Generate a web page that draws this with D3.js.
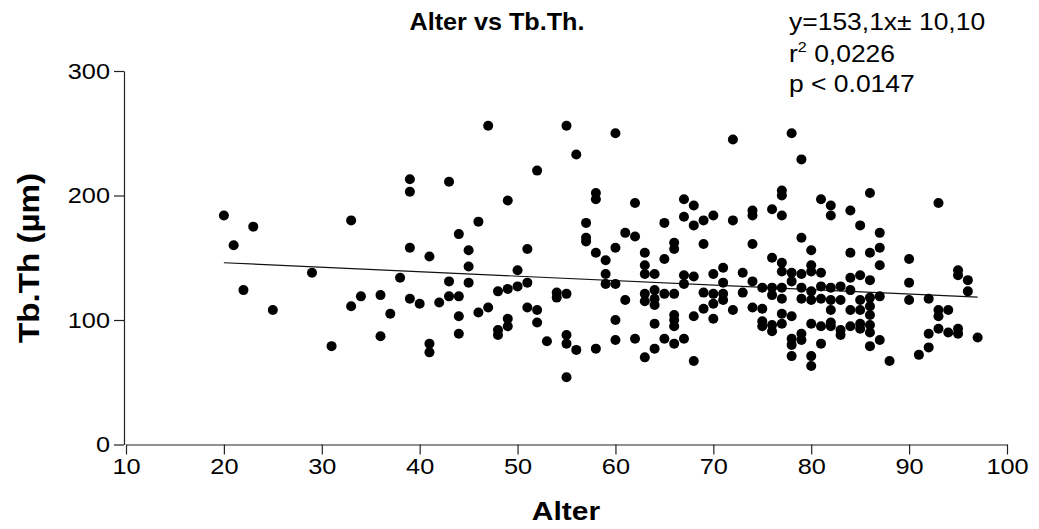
<!DOCTYPE html>
<html>
<head>
<meta charset="utf-8">
<script src="https://cdn.jsdelivr.net/npm/d3@7"></script>
<style>
  body { margin: 0; background: #fff; }
  svg { display: block; font-family: "Liberation Sans", Arial, sans-serif; }
</style>
</head>
<body>
<svg id="chart" width="1039" height="529"></svg>
<script>
// ages and Tb.Th values, one age column at a time
const ages = [
  20, 21, 22, 23, 25, 29, 31, 33, 33, 34, 36, 36, 37, 38,
  39, 39, 39, 39, 40, 41, 41, 41, 42, 43, 43, 43,
  44, 44, 44, 44, 45, 45, 45, 46, 46, 47, 47,
  48, 48, 48, 49, 49, 49, 49, 50, 50, 51, 51, 51,
  52, 52, 52, 53, 54, 54, 55, 55, 55, 55, 55, 56, 56,
  57, 57, 57, 58, 58, 58, 58, 59, 59, 59,
  60, 60, 60, 60, 60, 61, 61, 62, 62, 62,
  63, 63, 63, 63, 63, 63, 64, 64, 64, 64, 64, 64,
  65, 65, 65, 65, 66, 66, 66, 66, 66, 66, 66,
  67, 67, 67, 67, 67, 68, 68, 68, 68, 68,
  69, 69, 69, 69, 70, 70, 70, 70, 70, 71, 71, 71, 71,
  72, 72, 72, 73, 73, 74, 74, 74, 74, 74, 75, 75, 75, 75,
  76, 76, 76, 76, 76, 76, 77, 77, 77, 77, 77, 77, 77, 77, 77,
  78, 78, 78, 78, 78, 78, 78, 79, 79, 79, 79, 79, 79, 79,
  80, 80, 80, 80, 80, 80, 80, 80, 81, 81, 81, 81, 81, 81,
  82, 82, 82, 82, 82, 82, 82, 83, 83, 83, 83,
  84, 84, 84, 84, 84, 84, 85, 85, 85, 85, 85, 85,
  86, 86, 86, 86, 86, 86, 86, 86, 86, 87, 87, 87, 87, 87,
  88, 90, 90, 90, 91, 92, 92, 92, 93, 93, 93, 93,
  94, 94, 95, 95, 95, 95, 96, 96, 97
];
const tbth = [
  184, 160, 124, 175, 108, 138, 79, 180, 111, 119, 120, 87, 105, 134,
  213, 203, 158, 117, 113, 151, 81, 74, 114, 211, 131, 119,
  169, 119, 103, 89, 156, 143, 130, 179, 106, 256, 110,
  123, 92, 88, 196, 125, 101, 95, 140, 127, 157, 130, 110,
  220, 108, 98, 83, 122, 118, 256, 121, 88, 81, 54, 233, 76,
  178, 166, 163, 202, 197, 154, 77, 148, 137, 129,
  250, 158, 129, 100, 84, 170, 116, 194, 167, 85,
  154, 144, 137, 121, 115, 70, 137, 124, 117, 112, 97, 77,
  178, 149, 121, 85, 162, 157, 121, 104, 100, 95, 81,
  197, 183, 136, 129, 85, 192, 176, 135, 103, 67,
  180, 161, 122, 109, 184, 137, 121, 113, 101, 142, 130, 121, 116,
  245, 180, 108, 138, 122, 188, 184, 161, 131, 110, 126, 109, 99, 95,
  189, 150, 126, 120, 96, 91, 204, 200, 184, 146, 139, 126, 117, 105, 97,
  250, 138, 131, 103, 85, 80, 71, 229, 166, 137, 126, 117, 89, 84,
  156, 144, 139, 123, 116, 97, 71, 63, 197, 138, 127, 117, 95, 81,
  192, 184, 126, 116, 108, 98, 95, 127, 116, 92, 88,
  188, 154, 134, 124, 108, 95, 176, 136, 116, 108, 97, 93,
  202, 154, 132, 118, 111, 104, 96, 90, 79, 170, 158, 144, 119, 84,
  67, 149, 130, 116, 72, 117, 89, 78, 194, 108, 103, 93,
  108, 90, 140, 136, 93, 89, 132, 123, 86
];

// fitted line as drawn in the picture (end points)
const fitAges = [20, 97];
const fitValues = [146.0, 118.3];

const xTicks = [10, 20, 30, 40, 50, 60, 70, 80, 90, 100];
const yTicks = [0, 100, 200, 300];

const statLines = ["y=153,1x\u00b1 10,10", "0,0226", "p < 0.0147"];

const svg = d3.select("#chart");

const x = d3.scaleLinear().domain([10, 100]).range([126, 1007]);
const y = d3.scaleLinear().domain([0, 300]).range([444.5, 71]);

// the picture is a bit wider than tall, so text is stretched sideways
function stretch(sel, sx) {
  sel.each(function () {
    const len = this.getComputedTextLength();
    d3.select(this).attr("textLength", len * sx).attr("lengthAdjust", "spacingAndGlyphs");
  });
}

const xAxis = svg.append("g")
  .attr("transform", `translate(0,${y(0)})`)
  .call(d3.axisBottom(x).tickValues(xTicks).tickSize(10).tickSizeOuter(0).tickPadding(4));

const yAxis = svg.append("g")
  .attr("transform", `translate(${x(10) - 2},0)`)
  .call(d3.axisLeft(y).tickValues(yTicks).tickSize(10).tickSizeOuter(0).tickPadding(4));

[xAxis, yAxis].forEach(g => {
  g.select(".domain").attr("stroke", "#222").attr("stroke-width", 1.2);
  g.selectAll(".tick line").attr("stroke", "#222").attr("stroke-width", 1.2);
  g.selectAll(".tick text")
    .attr("fill", "#000")
    .style("font-family", "'Liberation Sans', Arial, sans-serif")
    .style("font-size", "22px");
});
stretch(xAxis.selectAll(".tick text"), 1.15);
stretch(yAxis.selectAll(".tick text"), 1.15);

// fit line
svg.append("path")
  .datum(d3.zip(fitAges, fitValues))
  .attr("fill", "none")
  .attr("stroke", "#111")
  .attr("stroke-width", 1.2)
  .attr("d", d3.line().x(d => x(d[0])).y(d => y(d[1])));

// points
svg.append("g")
  .selectAll("circle")
  .data(d3.zip(ages, tbth))
  .join("circle")
  .attr("cx", d => x(d[0]))
  .attr("cy", d => y(d[1]))
  .attr("r", 5)
  .attr("fill", "#000");

// title
const title = svg.append("text")
  .attr("x", 497).attr("y", 30)
  .attr("text-anchor", "middle")
  .style("font-weight", "bold")
  .style("font-size", "24px")
  .text("Alter vs Tb.Th.");
stretch(title, 1.05);

// axis titles
const xTitle = svg.append("text")
  .attr("x", 566).attr("y", 520)
  .attr("text-anchor", "middle")
  .style("font-weight", "bold")
  .style("font-size", "25px")
  .text("Alter");
stretch(xTitle, 1.2);

const yTitle = svg.append("text")
  .attr("transform", "translate(39,258) rotate(-90)")
  .attr("text-anchor", "middle")
  .style("font-weight", "bold")
  .style("font-size", "29px")
  .text("Tb.Th (\u00b5m)");
yTitle.attr("textLength", 170).attr("lengthAdjust", "spacingAndGlyphs");

// regression stats
const s1 = svg.append("text")
  .attr("x", 789).attr("y", 30)
  .style("font-size", "23px")
  .text(statLines[0]);
stretch(s1, 1.15);

const s2 = svg.append("text")
  .attr("x", 789).attr("y", 62)
  .style("font-size", "23px");
s2.append("tspan").text("r");
s2.append("tspan").attr("dy", -10).style("font-size", "14px").text("2");
s2.append("tspan").attr("dy", 10).text(" " + statLines[1]);
stretch(s2, 1.15);

const s3 = svg.append("text")
  .attr("x", 789).attr("y", 92)
  .style("font-size", "23px")
  .text(statLines[2]);
stretch(s3, 1.15);
</script>
</body>
</html>
